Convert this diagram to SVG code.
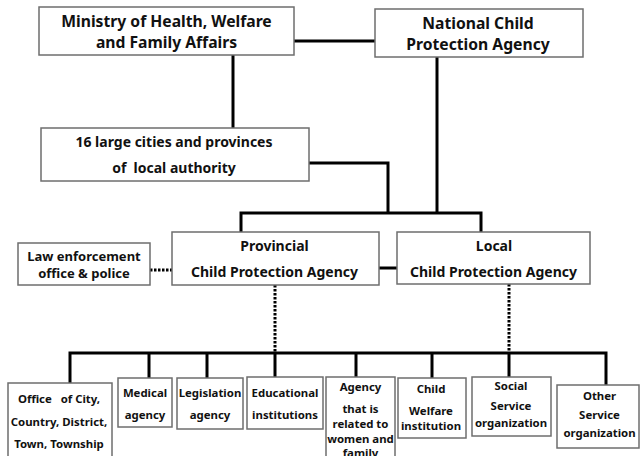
<svg xmlns="http://www.w3.org/2000/svg" width="640" height="456" viewBox="0 0 640 456">
<style>
.box{fill:#fff;stroke:#6e6e6e;stroke-width:1.5}
.t{font-family:"Noto Sans","Open Sans","DejaVu Sans",sans-serif;font-weight:bold;fill:#111;text-anchor:middle}
.big{font-size:15.7px}
.mid{font-size:14px}
.law{font-size:13px}
.sm{font-size:11.4px}
.ln{fill:none;stroke:#000;stroke-width:3}
.dot{fill:none;stroke:#000;stroke-width:3;stroke-dasharray:2.5 1.5}
</style>
<rect width="640" height="456" fill="#fff"/>
<g id="connectors">
<path class="ln" d="M294 41H375"/>
<path class="ln" d="M233 55V128"/>
<path class="ln" d="M309 163H388V213"/>
<path class="ln" d="M437 57V213"/>
<path class="ln" d="M241 232V213H481V232"/>
<path class="ln" d="M379 268H397"/>
<path class="dot" d="M150 270H172"/>
<path class="dot" d="M275 285V353"/>
<path class="dot" d="M509 284V353"/>
<path class="ln" d="M70 383V353H606V385"/>
<path class="ln" d="M149 353V378M207 353V378M275 353V377M356 353V377M432 353V378M509 353V377"/>
</g>
<g id="ministry"><rect class="box" x="39" y="7" width="255" height="48"/>
<text class="t big" x="166.5" y="26.8">Ministry of Health, Welfare</text>
<text class="t big" x="166.5" y="48.3">and Family Affairs</text></g>
<g id="national"><rect class="box" x="375" y="9" width="208" height="48"/>
<text class="t big" x="478" y="28.8">National Child</text>
<text class="t big" x="478" y="50.3">Protection Agency</text></g>
<g id="cities"><rect class="box" x="41" y="128" width="268" height="53"/>
<text class="t mid" x="174" y="146.5">16 large cities and provinces</text>
<text class="t mid" x="174" y="173" xml:space="preserve">of  local authority</text></g>
<g id="provincial"><rect class="box" x="172" y="232" width="207" height="53"/>
<text class="t mid" x="274.5" y="250.5">Provincial</text>
<text class="t mid" x="274.5" y="277">Child Protection Agency</text></g>
<g id="local"><rect class="box" x="397" y="232" width="193" height="52"/>
<text class="t mid" x="494" y="250.5">Local</text>
<text class="t mid" x="493.5" y="277">Child Protection Agency</text></g>
<g id="law"><rect class="box" x="18" y="243" width="132" height="42"/>
<text class="t law" x="84" y="261">Law enforcement</text>
<text class="t law" x="84" y="277.5">office &amp; police</text></g>
<g id="office"><rect class="box" x="8" y="383" width="104" height="80"/>
<text class="t sm" x="59" y="402.5" xml:space="preserve">Office   of City,</text>
<text class="t sm" x="59" y="426">Country, District,</text>
<text class="t sm" x="59" y="447.5">Town, Township</text></g>
<g id="medical"><rect class="box" x="118" y="378" width="54" height="49"/>
<text class="t sm" x="145" y="397">Medical</text>
<text class="t sm" x="145" y="418.5">agency</text></g>
<g id="legislation"><rect class="box" x="177" y="378" width="66" height="51"/>
<text class="t sm" x="210" y="397">Legislation</text>
<text class="t sm" x="210" y="419">agency</text></g>
<g id="educational"><rect class="box" x="247" y="377" width="76" height="52"/>
<text class="t sm" x="285" y="397">Educational</text>
<text class="t sm" x="285" y="419">institutions</text></g>
<g id="agency"><rect class="box" x="326" y="377" width="69" height="85"/>
<text class="t sm" x="360.5" y="391">Agency</text>
<text class="t sm" x="360.5" y="413">that is</text>
<text class="t sm" x="360.5" y="427.5">related to</text>
<text class="t sm" x="360.5" y="442.5">women and</text>
<text class="t sm" x="360.5" y="457">family</text></g>
<g id="childwelfare"><rect class="box" x="398" y="378" width="68" height="60"/>
<text class="t sm" x="431" y="393">Child</text>
<text class="t sm" x="431" y="415">Welfare</text>
<text class="t sm" x="431" y="429.5">institution</text></g>
<g id="social"><rect class="box" x="472" y="377" width="79" height="59"/>
<text class="t sm" x="511" y="390">Social</text>
<text class="t sm" x="511" y="409.5">Service</text>
<text class="t sm" x="511" y="427">organization</text></g>
<g id="other"><rect class="box" x="557" y="385" width="82" height="63"/>
<text class="t sm" x="599.5" y="400">Other</text>
<text class="t sm" x="599.5" y="419">Service</text>
<text class="t sm" x="599.5" y="437">organization</text></g>
</svg>
